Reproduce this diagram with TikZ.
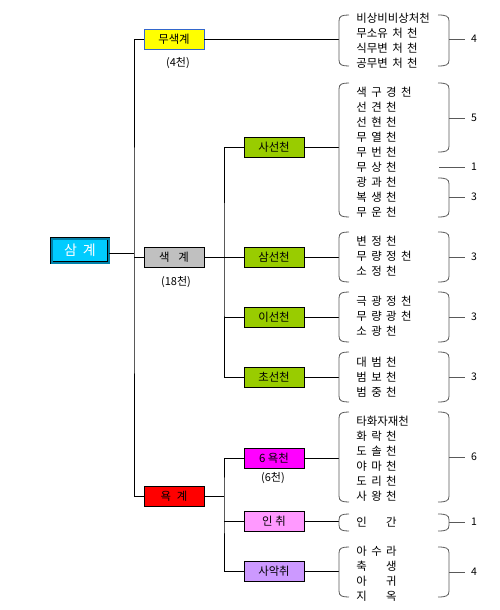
\documentclass[tikz,border=0pt]{standalone}
\usepackage{fontspec}
\setmainfont{Noto Sans CJK KR}
\usepackage{tikz}
\usetikzlibrary{positioning}

\definecolor{rootblue}{RGB}{0,204,255}
\definecolor{rootdark}{RGB}{0,130,170}
\definecolor{yel}{RGB}{255,255,0}
\definecolor{blueline}{RGB}{51,102,204}
\definecolor{greybox}{RGB}{192,192,192}
\definecolor{leaf}{RGB}{153,204,0}
\definecolor{magentabox}{RGB}{255,0,255}
\definecolor{pinkbox}{RGB}{255,153,255}
\definecolor{lilac}{RGB}{204,153,255}

\newlength{\listspace}
\setlength{\listspace}{4.4pt}

\tikzset{
  box/.style={draw, line width=0.8pt, minimum width=60pt, minimum height=20pt,
    inner sep=0pt, font=\fontsize{11.4}{12}\selectfont},
  list/.style={anchor=west, inner sep=0pt, align=left,
    font=\fontsize{11.4}{15}\selectfont,
    execute at begin node={\spaceskip=\listspace\relax}},
  num/.style={inner sep=6pt, font=\fontsize{10.5}{12}\selectfont},
  note/.style={inner sep=0pt, font=\fontsize{11}{12}\selectfont},
  brk/.style={draw=black!65, line width=0.8pt}
}

% bracket left / right: x, top, bottom
\newcommand{\brL}[3]{\draw[brk] (#1 + 10, #2) .. controls (#1 + 3, #2) and (#1, #2 + 1) .. (#1, #2 + 6) -- (#1, #3 - 6) .. controls (#1, #3 - 1) and (#1 + 3, #3) .. (#1 + 10, #3);}
\newcommand{\brR}[3]{\draw[brk] (#1 - 11, #2) .. controls (#1 - 3, #2) and (#1, #2 + 1) .. (#1, #2 + 6) -- (#1, #3 - 6) .. controls (#1, #3 - 1) and (#1 - 3, #3) .. (#1 - 11, #3);}

\begin{document}
\begin{tikzpicture}[x=1pt, y=-1pt, line width=0.8pt]
    \useasboundingbox (0, 0) rectangle (499, 610);

    \node[draw, line width=0.6pt, double=rootdark, double distance=2pt, fill=rootblue,
      minimum width=57pt, minimum height=24pt, inner sep=0pt, text=white,
      font=\fontsize{14}{16}\selectfont] (root) at (80, 250.5) {삼\hspace{6pt}계};

    \node[box, draw=blueline, fill=yel] (musaek) at (174, 39) {무색계};
    \node[box, fill=greybox] (saek) at (174, 257) {색\hspace{9pt}계};
    \node[box, fill=red] (yok) at (174, 496) {욕\hspace{6pt}계};
    \node[note] (cnt1) at (178, 63) {(4천)};
    \node[note] (cnt2) at (176, 282) {(18천)};

    \node[box, fill=leaf] (sasun) at (274, 147) {사선천};
    \node[box, fill=leaf] (samsun) at (274, 257) {삼선천};
    \node[box, fill=leaf] (isun) at (274, 317) {이선천};
    \node[box, fill=leaf] (chosun) at (274, 377) {초선천};
    \node[box, fill=magentabox] (yukyok) at (274, 458) {6 욕천};
    \node[note] (cnt3) at (273, 478) {(6천)};
    \node[box, fill=pinkbox] (inchwi) at (274, 521) {인 취};
    \node[box, fill=lilac] (saak) at (274, 571) {사악취};

    % 줄기
    \coordinate (tr1) at (134, 253);
    \coordinate (tr2) at (224, 257);
    \coordinate (tr3) at (224, 496);
    \draw (root.east |- tr1) -- (tr1);
    \draw (musaek.west) -| (tr1) |- (yok.west);
    \draw (saek.west) -- (saek.west -| tr1);
    \draw (saek.east) -- (tr2);
    \draw (sasun.west) -| (tr2) |- (chosun.west);
    \draw (samsun.west) -- (samsun.west -| tr2);
    \draw (isun.west) -- (isun.west -| tr2);
    \draw (yok.east) -- (tr3);
    \draw (yukyok.west) -| (tr3) |- (saak.west);
    \draw (inchwi.west) -- (inchwi.west -| tr3);

    \coordinate (bl) at (339, 0);
    \coordinate (br) at (449, 0);
    \coordinate (bi) at (439, 0);
    \draw (musaek.east) -- (musaek.east -| bl);
    \draw (sasun.east) -- (sasun.east -| bl);
    \draw (samsun.east) -- (samsun.east -| bl);
    \draw (isun.east) -- (isun.east -| bl);
    \draw (chosun.east) -- (chosun.east -| bl);
    \draw (yukyok.east) -- (yukyok.east -| bl);
    \draw (inchwi.east) -- (inchwi.east -| bl);
    \draw (saak.east) -- (saak.east -| bl);

    \node[list] (l1) at (356, 41) {비상비비상처천\\무소유 처 천\\식무변 처 천\\공무변 처 천};
    \node[list] (l2) at (356, 152) {색 구 경 천\\선 견 천\\선 현 천\\무 열 천\\무 번 천\\무 상 천\\광 과 천\\복 생 천\\무 운 천};
    \node[list] (l3) at (356, 256) {변 정 천\\무 량 정 천\\소 정 천};
    \node[list] (l4) at (356, 316) {극 광 정 천\\무 량 광 천\\소 광 천};
    \node[list] (l5) at (356, 377) {대 범 천\\범 보 천\\범 중 천};
    \node[list] (l6) at (356, 459) {타화자재천\\화 락 천\\도 솔 천\\야 마 천\\도 리 천\\사 왕 천};
    \node[list] (l7) at (356, 522) {인\hphantom{ 수 }간};
    \node[list] (l8) at (356, 574) {아 수 라\\축\hphantom{ 수 }생\\아\hphantom{ 수 }귀\\지\hphantom{ 수 }옥};

    \brL{339}{15}{66} \brR{449}{15}{66}
    \brL{339}{83}{217} \brR{449}{83}{152} \brR{449}{178}{217}
    \brL{339}{232}{282} \brR{449}{232}{282}
    \brL{339}{292}{342} \brR{449}{292}{342}
    \brL{339}{352}{402} \brR{449}{352}{402}
    \brL{339}{412}{502} \brR{449}{412}{502}
    \brL{339}{514}{531} \brR{449}{514}{531}
    \brL{339}{547}{597} \brR{449}{547}{597}

    \node[num] (n1) at (474, 39) {4};
    \node[num] (n2) at (474, 118) {5};
    \node[num] (n3) at (474, 167) {1};
    \node[num] (n4) at (474, 197) {3};
    \node[num] (n5) at (474, 257) {3};
    \node[num] (n6) at (474, 317) {3};
    \node[num] (n7) at (474, 377) {3};
    \node[num] (n8) at (474, 457) {6};
    \node[num] (n9) at (474, 522) {1};
    \node[num] (n10) at (474, 572) {4};
    \draw[brk] (n1.west -| br) -- (n1.west);
    \draw[brk] (n2.west -| br) -- (n2.west);
    \draw[brk] (n3.west -| bi) -- (n3.west); % 무상천
    \draw[brk] (n4.west -| br) -- (n4.west);
    \draw[brk] (n5.west -| br) -- (n5.west);
    \draw[brk] (n6.west -| br) -- (n6.west);
    \draw[brk] (n7.west -| br) -- (n7.west);
    \draw[brk] (n8.west -| br) -- (n8.west);
    \draw[brk] (n9.west -| br) -- (n9.west);
    \draw[brk] (n10.west -| br) -- (n10.west);
\end{tikzpicture}
\end{document}
